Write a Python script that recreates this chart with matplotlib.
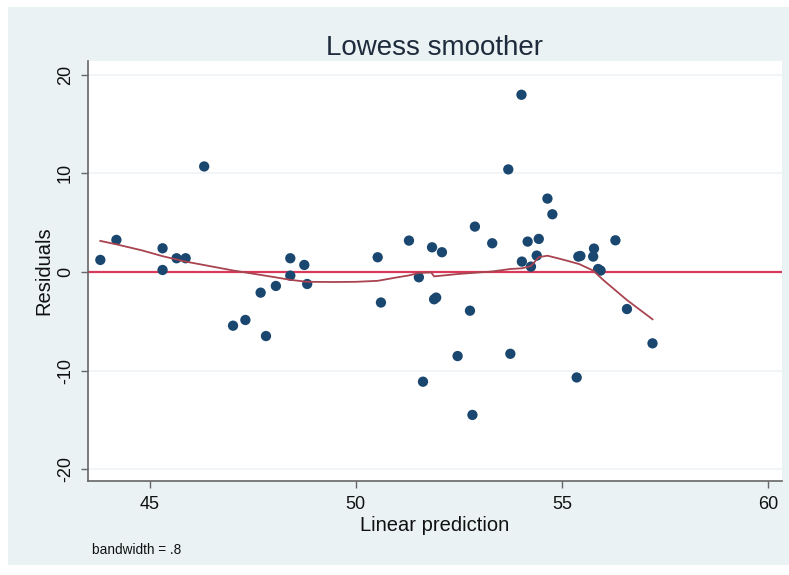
import matplotlib.pyplot as plt
from matplotlib.patches import Rectangle

plt.rcParams['font.family'] = ['Liberation Sans', 'DejaVu Sans']
plt.rcParams['axes.unicode_minus'] = False

# fitted values (x) and residuals (y)
fitted = [43.80, 44.19, 45.31, 45.31, 45.65, 45.87, 46.32, 47.02, 47.32, 47.69,
          47.82, 48.06, 48.41, 48.41, 48.75, 48.82, 50.53, 50.61, 51.29, 51.53,
          51.63, 51.85, 51.90, 51.95, 52.09, 52.47, 52.77, 52.83, 52.89, 53.31,
          53.70, 53.75, 54.02, 54.03, 54.17, 54.25, 54.39, 54.44, 54.65, 54.77,
          55.36, 55.40, 55.45, 55.76, 55.78, 55.88, 55.94, 56.30, 56.58, 57.20]
resid = [1.22, 3.25, 2.40, 0.20, 1.39, 1.39, 10.70, -5.45, -4.87, -2.10,
         -6.50, -1.42, 1.39, -0.37, 0.71, -1.22, 1.49, -3.10, 3.18, -0.54,
         -11.13, 2.50, -2.77, -2.60, 2.00, -8.53, -3.93, -14.50, 4.60, 2.91,
         10.40, -8.30, 17.97, 1.05, 3.08, 0.54, 1.66, 3.35, 7.44, 5.85,
         -10.70, 1.56, 1.62, 1.56, 2.37, 0.30, 0.14, 3.21, -3.76, -7.24]

# lowess curve
low_x = [43.80, 44.19, 44.80, 45.31, 45.87, 46.32, 47.02, 47.69, 48.06, 48.41,
         48.82, 49.50, 50.00, 50.53, 51.00, 51.29, 51.53, 51.83, 51.90, 52.50,
         53.31, 53.75, 54.03, 54.25, 54.44, 54.65, 55.03, 55.42, 55.76, 56.00,
         56.58, 57.20]
low_y = [3.15, 2.80, 2.20, 1.60, 1.05, 0.70, 0.15, -0.30, -0.55, -0.80,
         -1.00, -1.02, -1.00, -0.90, -0.55, -0.35, -0.10, -0.05, -0.45, -0.20,
         0.05, 0.30, 0.37, 0.60, 1.50, 1.65, 1.25, 0.80, 0.14, -0.80,
         -2.85, -4.80]

xticks = [45, 50, 55, 60]
yticks = [-20, -10, 0, 10, 20]

fig = plt.figure(figsize=(7.89, 5.75), dpi=100)
fig.patch.set_facecolor('white')
# light blue-gray panel behind the graph, stata style
fig.patches.append(Rectangle((0.0101, 0.0174), 0.99, 0.970, transform=fig.transFigure,
                             facecolor='#eaf2f3', edgecolor='none', zorder=-10))

ax = fig.add_axes([0.1115, 0.1635, 0.8795, 0.7305])
ax.set_facecolor('white')

for t in yticks:
    ax.axhline(t, color='#f0f4f6', linewidth=1.2, zorder=1)

ax.axhline(0, color='#d93a5c', linewidth=1.6, zorder=2)
ax.scatter(fitted, resid, s=55, color='#1a476f', edgecolors='none', zorder=3)
ax.plot(low_x, low_y, color='#a8434f', linewidth=1.3, zorder=4)

ax.set_xlim(43.5, 60.34)
ax.set_ylim(-21.2, 21.4)
ax.set_xticks(xticks)
ax.set_yticks(yticks)
ax.set_yticklabels([str(t) for t in yticks], rotation=90, va='center')

for s in ['top', 'right']:
    ax.spines[s].set_visible(False)
for s in ['left', 'bottom']:
    ax.spines[s].set_color('#666666')
    ax.spines[s].set_linewidth(1.2)
ax.tick_params(axis='both', colors='#666666', labelcolor='#111111',
               labelsize=13, length=5, width=1)
ax.tick_params(axis='x', pad=6)
ax.tick_params(axis='y', pad=5)

ax.set_title('Lowess smoother', fontsize=20, color='#1e2b3c', pad=4)
ax.set_xlabel('Linear prediction', fontsize=14.5, color='#111111', labelpad=2)
ax.set_ylabel('Residuals', fontsize=14.5, color='#111111', labelpad=3)

fig.text(0.117, 0.037, 'bandwidth = .8', fontsize=9.8, color='#111111')

plt.savefig('out.png', dpi=100)
